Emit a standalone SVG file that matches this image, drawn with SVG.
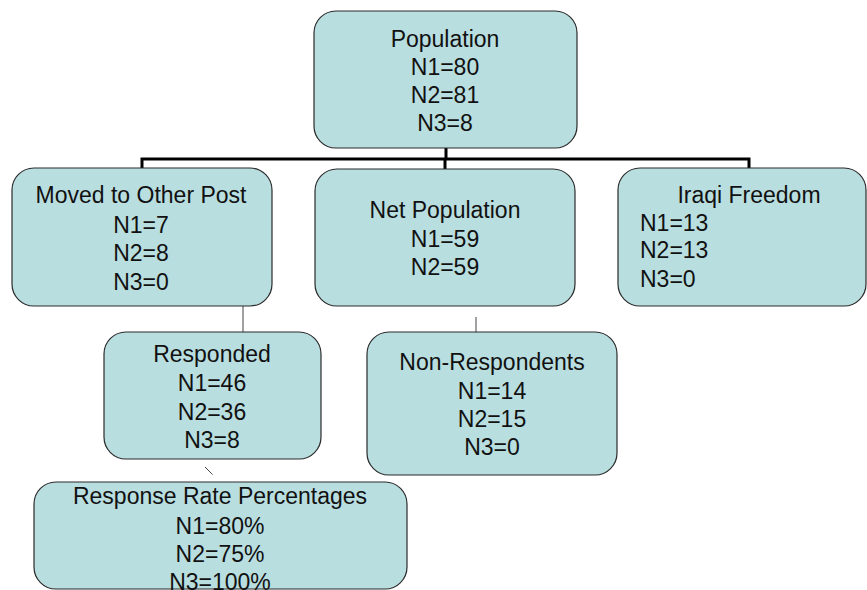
<svg xmlns="http://www.w3.org/2000/svg" width="867" height="590" viewBox="0 0 867 590">
  <style>
    .box { fill: #b9dee0; stroke: #2a2a2a; stroke-width: 1.2; }
    .t { font-family: "Liberation Sans", Arial, sans-serif; font-size: 23px; fill: #111; }
    .c { text-anchor: middle; }
    .main { fill: none; stroke: #000; stroke-width: 3; }
    .thin { fill: none; stroke: #444; stroke-width: 1; }
  </style>
  <rect width="867" height="590" fill="#fff"/>

  <g id="connectors">
    <path class="main" d="M446 148 V159 M142 169 V159 H749 V169 M445 159 V169"/>
    <line class="thin" x1="243" y1="300" x2="243" y2="332"/>
    <line class="thin" x1="476" y1="317" x2="476" y2="332"/>
    <line class="thin" x1="205" y1="467" x2="212.5" y2="474.5"/>
  </g>

  <g id="population">
    <rect class="box" x="314" y="11" width="263" height="137" rx="22"/>
    <text class="t c" x="445" y="47">Population</text>
    <text class="t c" x="445" y="75">N1=80</text>
    <text class="t c" x="445" y="103">N2=81</text>
    <text class="t c" x="445" y="131">N3=8</text>
  </g>

  <g id="moved">
    <rect class="box" x="12" y="168" width="260" height="138" rx="22"/>
    <text class="t c" x="141" y="203">Moved to Other Post</text>
    <text class="t c" x="141" y="233">N1=7</text>
    <text class="t c" x="141" y="261">N2=8</text>
    <text class="t c" x="141" y="290">N3=0</text>
  </g>

  <g id="net-population">
    <rect class="box" x="315" y="169" width="260" height="137" rx="22"/>
    <text class="t c" x="445" y="218">Net Population</text>
    <text class="t c" x="445" y="247">N1=59</text>
    <text class="t c" x="445" y="275">N2=59</text>
  </g>

  <g id="iraqi-freedom">
    <rect class="box" x="618" y="168" width="248" height="138" rx="22"/>
    <text class="t c" x="749" y="203">Iraqi Freedom</text>
    <text class="t" x="640" y="231">N1=13</text>
    <text class="t" x="640" y="258">N2=13</text>
    <text class="t" x="640" y="287">N3=0</text>
  </g>

  <g id="responded">
    <rect class="box" x="104" y="332" width="217" height="127" rx="22"/>
    <text class="t c" x="212" y="362">Responded</text>
    <text class="t c" x="212" y="391">N1=46</text>
    <text class="t c" x="212" y="420">N2=36</text>
    <text class="t c" x="212" y="448">N3=8</text>
  </g>

  <g id="non-respondents">
    <rect class="box" x="367" y="332" width="250" height="143" rx="22"/>
    <text class="t c" x="492" y="370">Non-Respondents</text>
    <text class="t c" x="492" y="399">N1=14</text>
    <text class="t c" x="492" y="427">N2=15</text>
    <text class="t c" x="492" y="455">N3=0</text>
  </g>

  <g id="response-rate">
    <rect class="box" x="34" y="482" width="373" height="107" rx="22"/>
    <text class="t c" x="220" y="504">Response Rate Percentages</text>
    <text class="t c" x="220" y="534">N1=80%</text>
    <text class="t c" x="220" y="562">N2=75%</text>
    <text class="t c" x="220" y="590">N3=100%</text>
  </g>
</svg>
